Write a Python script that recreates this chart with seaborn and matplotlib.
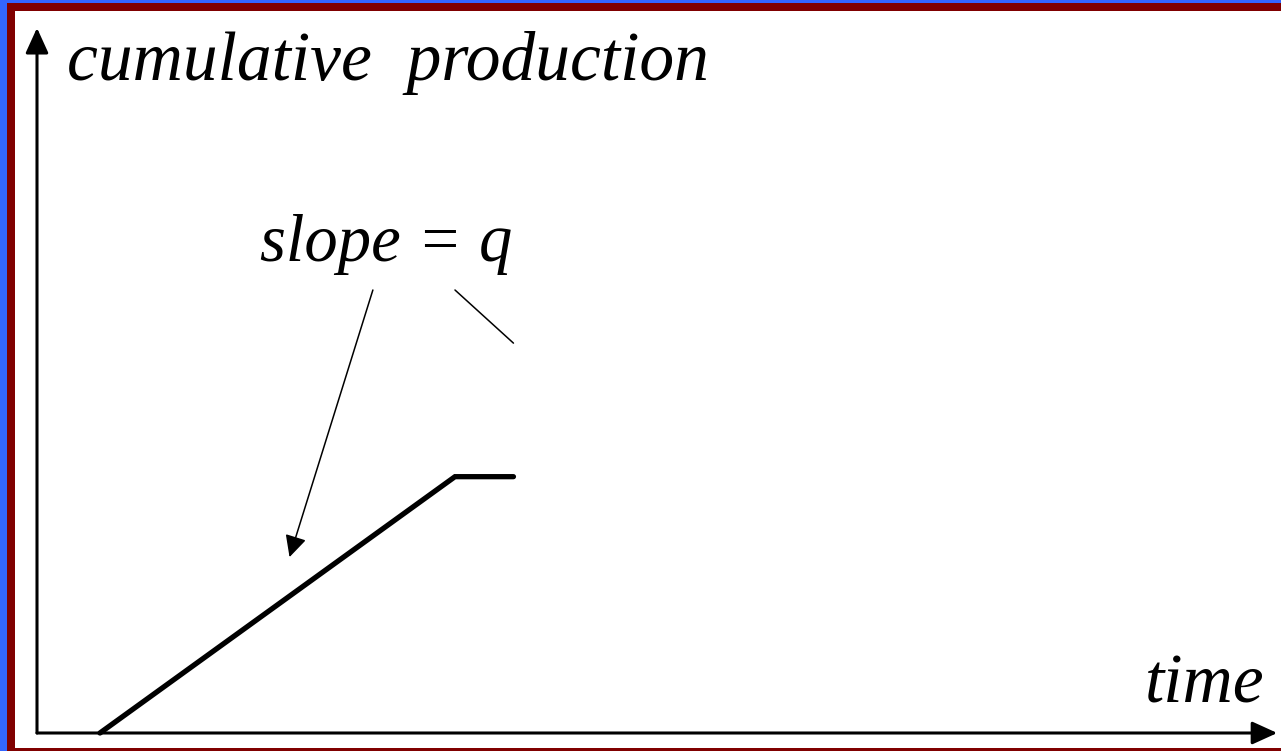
import matplotlib
matplotlib.use("Agg")
import matplotlib.pyplot as plt
from matplotlib.patches import Rectangle
import seaborn as sns
import pandas as pd

# Cumulative production: linear rise at rate q, then a plateau
time_pts = [0.506, 3.36, 3.83]
cum_prod = [0.0, 3.57, 3.57]

# Label text
y_label = "cumulative  production"
x_label = "time"
slope_label = "slope = q"

# Leader lines for the slope label (start -> end)
leader_arrow = [(2.70, 6.17), (2.03, 2.45)]
leader_line = [(3.36, 6.17), (3.83, 5.43)]

sns.set_style("white")
plt.rcParams["font.family"] = ["Liberation Serif", "DejaVu Serif"]
plt.rcParams["text.color"] = "black"

W, H = 1281, 751
fig = plt.figure(figsize=(W / 100, H / 100), dpi=100)

# Slide frame: blue outer edge, dark red band, white card
def px_rect(x0, y0, x1, y1, color):
    fig.patches.append(Rectangle((x0 / W, 1 - y1 / H), (x1 - x0) / W, (y1 - y0) / H,
                                 transform=fig.transFigure, facecolor=color,
                                 edgecolor="none", zorder=-10))

px_rect(0, 0, W, H, "#3366ff")
px_rect(7, 3, W, H, "#800000")
px_rect(15, 11, W, 748, "white")

ax = fig.add_axes([37 / W, (H - 733) / H, (W - 37) / W, (733 - 15) / H])
ax.set_facecolor("none")
ax.set_xlim(0, 10)
ax.set_ylim(0, 10)
for s in ax.spines.values():
    s.set_visible(False)
ax.set_xticks([])
ax.set_yticks([])

df = pd.DataFrame({"time": time_pts, "prod": cum_prod})
sns.lineplot(data=df, x="time", y="prod", ax=ax, color="black", linewidth=3.8,
             sort=False, estimator=None, solid_joinstyle="miter", clip_on=False)
ax.set_xlabel("")
ax.set_ylabel("")

# Axis arrows
axis_kw = dict(arrowstyle="-|>,head_length=0.55,head_width=0.25", color="black",
               lw=2.2, mutation_scale=28, shrinkA=0, shrinkB=0)
ax.annotate("", xy=(0, 0.982), xytext=(0, 0), xycoords="axes fraction",
            textcoords="axes fraction", arrowprops=axis_kw, annotation_clip=False)
ax.annotate("", xy=(0.997, 0), xytext=(0, 0), xycoords="axes fraction",
            textcoords="axes fraction", arrowprops=axis_kw, annotation_clip=False)

# Labels (italic serif)
ax.text(0.24, 9.09, y_label, fontsize=50, style="italic", ha="left", va="baseline",
        color="black")
ax.text(8.91, 0.42, x_label, fontsize=50, style="italic", ha="left", va="baseline",
        color="black")
ax.text(1.79, 6.58, slope_label, fontsize=48, style="italic", ha="left", va="baseline",
        color="black")

# Leaders from the slope label
ax.annotate("", xy=leader_arrow[1], xytext=leader_arrow[0],
            arrowprops=dict(arrowstyle="-|>,head_length=0.6,head_width=0.3",
                            color="black", lw=1.1, mutation_scale=22,
                            shrinkA=0, shrinkB=0))
ax.plot([leader_line[0][0], leader_line[1][0]], [leader_line[0][1], leader_line[1][1]],
        color="black", lw=1.1)

fig.savefig("out.png", dpi=100)
